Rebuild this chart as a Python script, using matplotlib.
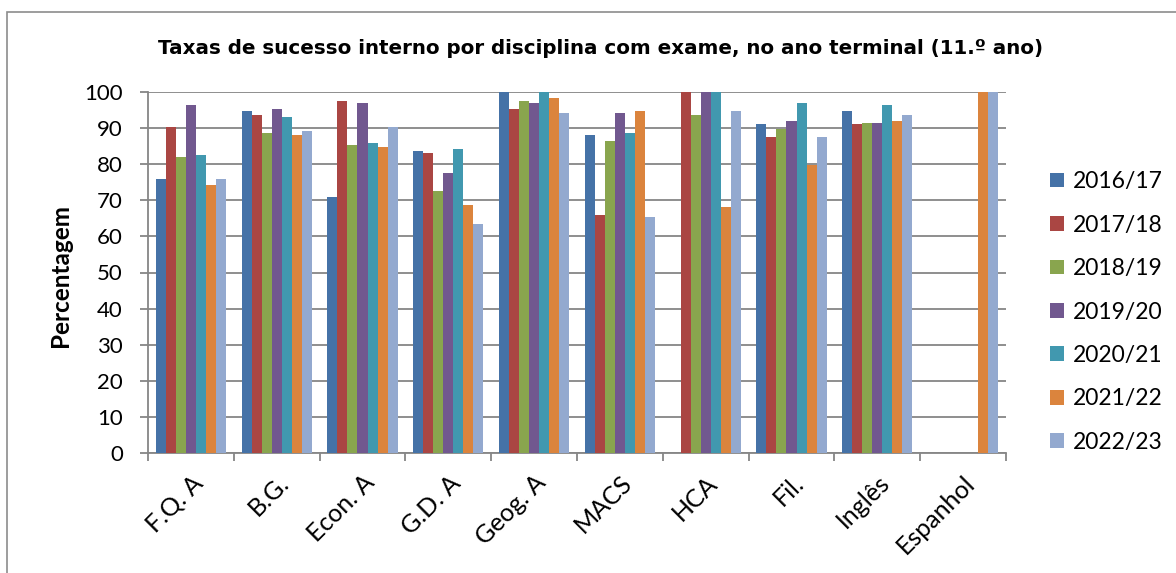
import numpy as np
import matplotlib.pyplot as plt
from matplotlib.patches import Rectangle

# Data (percentages); nan = no bar
subjects = ['F.Q. A', 'B.G.', 'Econ. A', 'G.D. A', 'Geog. A', 'MACS', 'HCA', 'Fil.', 'Inglês', 'Espanhol']
years = ['2016/17', '2017/18', '2018/19', '2019/20', '2020/21', '2021/22', '2022/23']

y2016 = [76.0, 94.8, 71.0, 83.7, 100.0, 88.2, np.nan, 91.0, 94.8, np.nan]
y2017 = [90.4, 93.7, 97.6, 83.2, 95.4, 66.0, 100.0, 87.6, 91.0, np.nan]
y2018 = [82.1, 88.7, 85.4, 72.7, 97.6, 86.5, 93.7, 89.8, 91.5, np.nan]
y2019 = [96.5, 95.4, 97.0, 77.7, 97.0, 94.3, 100.0, 92.1, 91.5, np.nan]
y2020 = [82.6, 93.2, 86.0, 84.3, 100.0, 88.7, 100.0, 97.0, 96.5, np.nan]
y2021 = [74.3, 88.2, 84.9, 68.8, 98.2, 94.8, 68.2, 79.9, 92.1, 100.0]
y2022 = [76.0, 89.3, 90.4, 63.3, 94.3, 65.5, 94.8, 87.6, 93.7, 100.0]
series = [y2016, y2017, y2018, y2019, y2020, y2021, y2022]

colors = ['#4572A7', '#AA4643', '#89A54E', '#71588F', '#4198AF', '#DB843D', '#93A9CF']
grid_c = '#868686'

fig = plt.figure(figsize=(11.76, 5.73), dpi=100)
ax = fig.add_axes([148 / 1176, 1 - 453 / 573, (1006 - 148) / 1176, (453 - 92) / 573])

x = np.arange(len(subjects))
w = 0.117
handles = []
for i, (vals, c) in enumerate(zip(series, colors)):
    b = ax.bar(x + (i - 3) * w, vals, width=w, color=c, label=years[i], zorder=3)
    handles.append(b)

ax.set_xlim(-0.5, len(subjects) - 0.5)
ax.set_ylim(0, 100)
ax.set_yticks(np.arange(0, 101, 10))
ax.yaxis.grid(True, color=grid_c, linewidth=1.3, zorder=0)
ax.set_axisbelow(True)

for s in ['top', 'right']:
    ax.spines[s].set_visible(False)
for s in ['left', 'bottom']:
    ax.spines[s].set_color(grid_c)
    ax.spines[s].set_linewidth(1.3)

tick_font = 'Lato'
ax.tick_params(axis='y', length=6, width=1.3, color=grid_c, pad=12, labelsize=16)
for lab in ax.get_yticklabels():
    lab.set_fontfamily(tick_font)

# category boundaries get the tick marks, labels sit at the centres
ax.set_xticks(x)
ax.set_xticks(np.arange(-0.5, len(subjects)), minor=True)
ax.tick_params(axis='x', which='major', length=0, pad=13)
ax.tick_params(axis='x', which='minor', length=6, width=1.3, color=grid_c)
ax.set_xticklabels(subjects, rotation=45, ha='right', rotation_mode='anchor',
                   fontsize=18, fontfamily=tick_font)

fig.text(61 / 1176, 1 - 275 / 573, 'Percentagem', rotation=90, ha='center', va='center',
         fontsize=17.5, fontweight='bold', family=tick_font)

fig.text(601 / 1176, 1 - 48 / 573,
         'Taxas de sucesso interno por disciplina com exame, no ano terminal (11.º ano)',
         ha='center', va='center', fontsize=14.3, fontweight='bold', family='DejaVu Sans')

leg = fig.legend(handles=handles, loc='center left', bbox_to_anchor=(1029 / 1176, 1 - 312 / 573),
                 frameon=False, prop={'family': tick_font, 'size': 16.5},
                 handlelength=0.62, handleheight=0.62, handletextpad=0.4, labelspacing=0.98)

# chart border
fig.patches.append(Rectangle((7 / 1176, -0.1), 1.2, 1.1 - 12 / 573, transform=fig.transFigure,
                             fill=False, edgecolor='#8c8c8c', linewidth=1.2))

fig.savefig('out.png', dpi=100)
